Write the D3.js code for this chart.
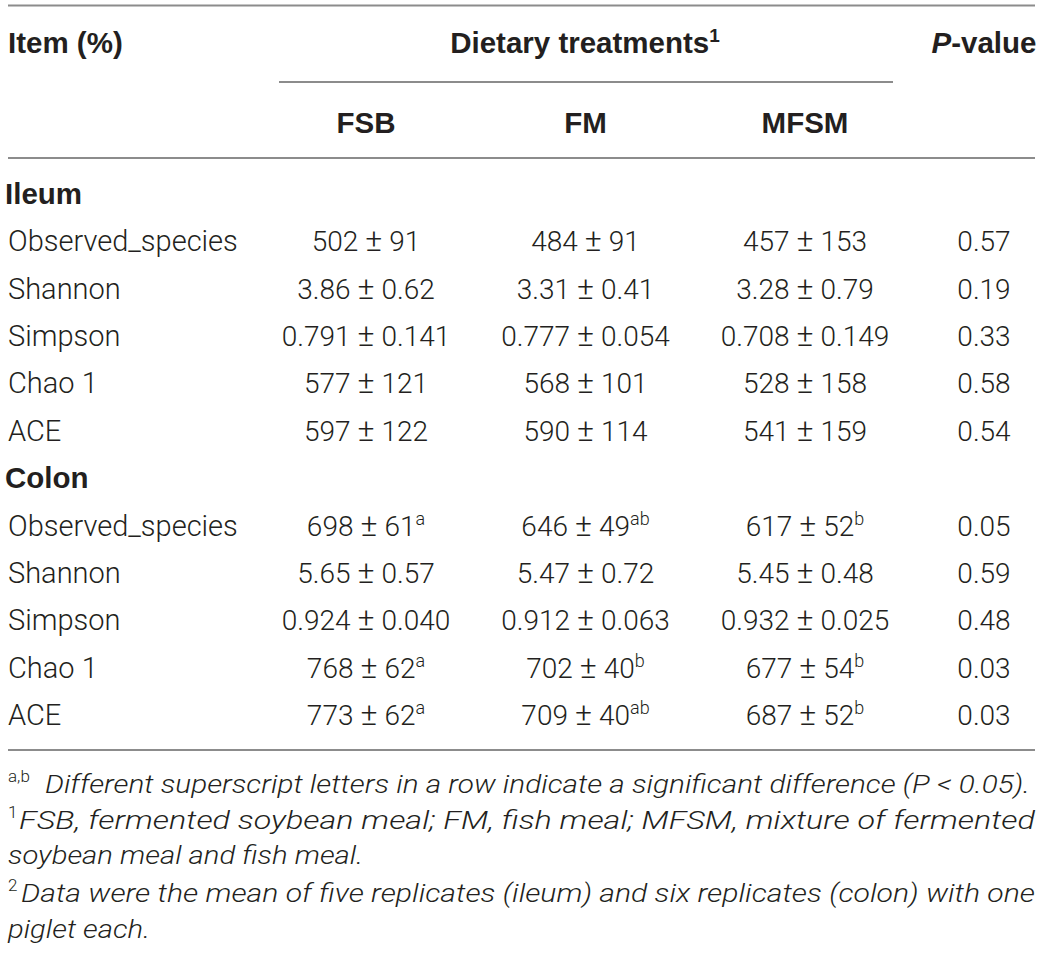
<!DOCTYPE html>
<html>
<head>
<meta charset="utf-8">
<script src="https://cdn.jsdelivr.net/npm/d3@7"></script>
<style>
  html, body { margin: 0; padding: 0; background: #fff; }
  svg { display: block; }
</style>
</head>
<body>
<svg id="chart" width="1043" height="954"></svg>
<script>
// ---------- data ----------
const treatments = ["FSB", "FM", "MFSM"];
const sections = ["Ileum", "Colon"];
const items = ["Observed_species", "Shannon", "Simpson", "Chao 1", "ACE"];

const ileumFSB  = ["502 ± 91", "3.86 ± 0.62", "0.791 ± 0.141", "577 ± 121", "597 ± 122"];
const ileumFM   = ["484 ± 91", "3.31 ± 0.41", "0.777 ± 0.054", "568 ± 101", "590 ± 114"];
const ileumMFSM = ["457 ± 153", "3.28 ± 0.79", "0.708 ± 0.149", "528 ± 158", "541 ± 159"];
const ileumP    = ["0.57", "0.19", "0.33", "0.58", "0.54"];

const colonFSB     = ["698 ± 61", "5.65 ± 0.57", "0.924 ± 0.040", "768 ± 62", "773 ± 62"];
const colonFSBsup  = ["a", "", "", "a", "a"];
const colonFM      = ["646 ± 49", "5.47 ± 0.72", "0.912 ± 0.063", "702 ± 40", "709 ± 40"];
const colonFMsup   = ["ab", "", "", "b", "ab"];
const colonMFSM    = ["617 ± 52", "5.45 ± 0.48", "0.932 ± 0.025", "677 ± 54", "687 ± 52"];
const colonMFSMsup = ["b", "", "", "b", "b"];
const colonP       = ["0.05", "0.59", "0.48", "0.03", "0.03"];

const footnotes = [
  { sup: "a,b", text: "Different superscript letters in a row indicate a significant difference (P < 0.05)." },
  { sup: "1", text: "FSB, fermented soybean meal; FM, fish meal; MFSM, mixture of fermented" },
  { sup: "", text: "soybean meal and fish meal." },
  { sup: "2", text: "Data were the mean of five replicates (ileum) and six replicates (colon) with one" },
  { sup: "", text: "piglet each." }
];

// ---------- build rows ----------
const rows = [];
rows.push({ type: "section", label: sections[0] });
items.forEach((it, i) => rows.push({ type: "data", label: it,
  cells: [[ileumFSB[i], ""], [ileumFM[i], ""], [ileumMFSM[i], ""]], p: ileumP[i] }));
rows.push({ type: "section", label: sections[1] });
items.forEach((it, i) => rows.push({ type: "data", label: it,
  cells: [[colonFSB[i], colonFSBsup[i]], [colonFM[i], colonFMsup[i]], [colonMFSM[i], colonMFSMsup[i]]], p: colonP[i] }));

// ---------- layout ----------
const svg = d3.select("#chart");
const left = 8, right = 1035;
const textColor = "#231f20";
const ruleColor = "#8c8c8c";
const bodyFont = "Roboto, 'Liberation Sans', Arial, sans-serif";
const boldFont = "'Liberation Sans', Arial, sans-serif";

const x = d3.scalePoint().domain(treatments).range([366, 805]);
const pX = 984;
const y = d3.scaleLinear().domain([0, rows.length - 1]).range([194, 715]);

// rules
function rule(x1, x2, yy) {
  svg.append("line").attr("x1", x1).attr("x2", x2).attr("y1", yy).attr("y2", yy)
    .attr("stroke", ruleColor).attr("stroke-width", 1.8);
}
rule(left, right, 5.5);
rule(279, 893, 82);
rule(left, right, 158);
rule(left, right, 750);

// header
const hdr = svg.append("g").attr("fill", textColor).attr("font-family", boldFont)
  .attr("font-weight", "bold").attr("font-size", 29.5);
hdr.append("text").attr("x", left).attr("y", 53).text("Item (%)");
const dt = hdr.append("text").attr("x", 585).attr("y", 53).attr("text-anchor", "middle");
dt.append("tspan").text("Dietary treatments");
dt.append("tspan").attr("font-size", 19).attr("dy", -11).text("1");
const pv = hdr.append("text").attr("x", pX).attr("y", 53).attr("text-anchor", "middle");
pv.append("tspan").attr("font-style", "italic").text("P");
pv.append("tspan").text("-value");
hdr.selectAll("text.trt").data(treatments).join("text").attr("class", "trt")
  .attr("x", d => x(d)).attr("y", 133).attr("text-anchor", "middle").text(d => d);

// body rows
const body = svg.append("g").attr("fill", textColor);
rows.forEach((r, i) => {
  const yy = y(i) + 10;
  if (r.type === "section") {
    body.append("text").attr("x", left - 3).attr("y", yy).attr("font-family", boldFont)
      .attr("font-size", 29.5).attr("font-weight", "bold").text(r.label);
  } else {
    body.append("text").attr("x", left).attr("y", yy).attr("font-family", bodyFont)
      .attr("font-size", 29).attr("font-weight", 300).text(r.label);
    r.cells.forEach((c, j) => {
      const parts = c[0].split(" ± ");
      const t = body.append("text").attr("x", x(treatments[j])).attr("y", yy)
        .attr("text-anchor", "middle").attr("font-family", bodyFont)
        .attr("font-size", 28).attr("font-weight", 300);
      t.append("tspan").text(parts[0]);
      t.append("tspan").attr("dx", 7).attr("font-size", 32).text("±");
      t.append("tspan").attr("dx", 7).text(parts[1]);
      if (c[1]) t.append("tspan").attr("font-size", 18).attr("dy", -11).text(c[1]);
    });
    body.append("text").attr("x", pX).attr("y", yy).attr("text-anchor", "middle")
      .attr("font-family", bodyFont).attr("font-size", 28).attr("font-weight", 300).text(r.p);
  }
});

// footnotes
const fnY = [793, 829, 864, 902, 938];
const fnSpecs = [
  { supX: 8, tx: 45, len: 985 },
  { supX: 8, tx: 19, len: 1016 },
  { supX: 8, tx: 8, len: 355 },
  { supX: 8, tx: 21, len: 1014 },
  { supX: 8, tx: 8, len: 142 }
];
const fn = svg.append("g").attr("fill", textColor).attr("font-family", bodyFont).attr("font-weight", 300);
footnotes.forEach((f, i) => {
  const s = fnSpecs[i];
  if (f.sup) {
    fn.append("text").attr("x", s.supX).attr("y", fnY[i] - 11).attr("font-size", 17).text(f.sup);
  }
  fn.append("text").attr("x", s.tx).attr("y", fnY[i]).attr("font-size", 26)
    .attr("font-style", "italic")
    .attr("textLength", s.len).attr("lengthAdjust", "spacingAndGlyphs")
    .text(f.text);
});
</script>
</body>
</html>
